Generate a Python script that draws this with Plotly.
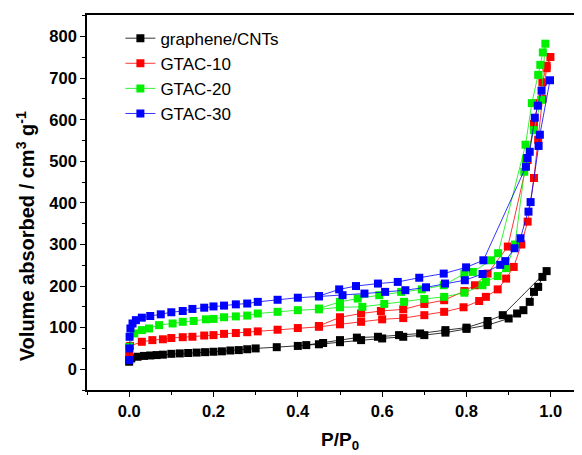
import plotly.graph_objects as go

# ---- data ----
BLACK_ADS_P = [0.0, 0.005, 0.02, 0.035, 0.05, 0.065, 0.08, 0.1, 0.12, 0.14, 0.16, 0.18, 0.2, 0.22, 0.24, 0.26, 0.28, 0.3,
               0.35, 0.4, 0.45, 0.5, 0.55, 0.6, 0.65, 0.7, 0.75, 0.8, 0.85, 0.9, 0.92, 0.935, 0.95, 0.96, 0.97, 0.98, 0.99]
BLACK_ADS_V = [18, 26, 30, 32, 33, 34, 35, 37, 38, 39, 40, 41, 42, 43, 45, 46, 48, 50,
               53, 56, 60, 65, 70, 74, 78, 82, 88, 97, 106, 122, 134, 142, 162, 186, 198, 222, 236]
BLACK_DES_P = [0.886, 0.85, 0.8, 0.75, 0.69, 0.64, 0.59, 0.54, 0.5, 0.46, 0.42]
BLACK_DES_V = [130, 116, 100, 94, 86, 82, 78, 76, 70, 63, 58]

RED_ADS_P = [0.0, 0.002, 0.03, 0.055, 0.08, 0.1, 0.127, 0.15, 0.178, 0.2, 0.225, 0.253, 0.28, 0.305, 0.352,
             0.4, 0.45, 0.5, 0.55, 0.6, 0.65, 0.7, 0.747, 0.793, 0.83, 0.846, 0.874, 0.894, 0.912, 0.93, 0.945,
             0.96, 0.97, 0.98, 0.99, 0.999]
RED_ADS_V = [32, 56, 66, 70, 72, 75, 77, 78, 81, 82, 85, 87, 89, 91, 95,
             99, 102, 108, 114, 120, 123, 130, 138, 149, 164, 174, 192, 218, 246, 300, 355,
             460, 552, 650, 724, 751]
RED_DES_P = [0.99, 0.98, 0.97, 0.96, 0.945, 0.898, 0.85, 0.82, 0.795, 0.747, 0.7, 0.65, 0.597, 0.55, 0.5, 0.45]
RED_DES_V = [730, 690, 640, 590, 503, 295, 230, 202, 188, 166, 157, 144, 140, 134, 125, 104]

GREEN_ADS_P = [0.0, 0.012, 0.03, 0.047, 0.071, 0.103, 0.127, 0.153, 0.182, 0.2, 0.225, 0.253, 0.28, 0.305, 0.352,
               0.4, 0.45, 0.5, 0.553, 0.605, 0.652, 0.7, 0.747, 0.795, 0.838, 0.846, 0.874, 0.894, 0.915, 0.937,
               0.941, 0.96, 0.977, 0.987]
GREEN_ADS_V = [54, 86, 94, 98, 106, 110, 114, 116, 120, 121, 125, 127, 129, 134, 138,
               142, 144, 149, 150, 157, 162, 169, 174, 184, 202, 210, 224, 243, 300, 475,
               505, 575, 648, 783]
GREEN_DES_P = [0.981, 0.975, 0.97, 0.955, 0.94, 0.875, 0.858, 0.815, 0.795, 0.746, 0.694, 0.645, 0.593, 0.542, 0.5, 0.45]
GREEN_DES_V = [762, 732, 708, 640, 540, 279, 262, 234, 230, 202, 192, 186, 178, 170, 162, 146]

BLUE_ADS_P = [0.0, 0.0005, 0.001, 0.003, 0.008, 0.016, 0.03, 0.05, 0.075, 0.1, 0.127, 0.15, 0.178, 0.2, 0.225,
              0.253, 0.28, 0.305, 0.352, 0.4, 0.45, 0.506, 0.558, 0.607, 0.655, 0.704, 0.749, 0.796, 0.838,
              0.88, 0.892, 0.914, 0.928, 0.947, 0.952, 0.971, 0.974, 0.998]
BLUE_ADS_V = [22, 50, 78, 98, 110, 118, 124, 128, 132, 137, 140, 145, 148, 151, 153,
              156, 158, 162, 167, 172, 175, 178, 182, 186, 190, 197, 206, 214, 229,
              251, 260, 291, 315, 379, 402, 537, 564, 695]
BLUE_DES_P = [0.978, 0.969, 0.962, 0.95, 0.944, 0.941, 0.84, 0.799, 0.746, 0.688, 0.637, 0.59, 0.538, 0.498, 0.45]
BLUE_DES_V = [670, 634, 605, 523, 508, 487, 262, 245, 230, 220, 210, 206, 200, 192, 176]

SERIES = [
    ("graphene/CNTs", "#000000", BLACK_ADS_P, BLACK_ADS_V, BLACK_DES_P, BLACK_DES_V),
    ("GTAC-10", "#ff0000", RED_ADS_P, RED_ADS_V, RED_DES_P, RED_DES_V),
    ("GTAC-20", "#00f000", GREEN_ADS_P, GREEN_ADS_V, GREEN_DES_P, GREEN_DES_V),
    ("GTAC-30", "#0000ff", BLUE_ADS_P, BLUE_ADS_V, BLUE_DES_P, BLUE_DES_V),
]

fig = go.Figure()
for name, color, ap, av, dp, dv in SERIES:
    fig.add_trace(go.Scatter(
        x=ap + dp, y=av + dv, name=name, mode="lines+markers",
        line=dict(color=color, width=0.8),
        marker=dict(symbol="square", size=8, color=color, line=dict(width=0)),
    ))

FONT = "Liberation Sans, Arial, sans-serif"
axis_common = dict(
    showline=True, linecolor="black", linewidth=1.6,
    ticks="outside", ticklen=5, tickwidth=1.4, tickcolor="black",
    showgrid=False, zeroline=False,
    tickfont=dict(family=FONT, size=16.5, color="black", weight="bold"),
)

# the page body adds an 8 px offset; margins compensate so the plot area sits where the reference has it,
# and the right end of the frame runs past the window edge as in the (cropped) reference
fig.update_layout(
    width=585, height=455,
    margin=dict(l=79, r=0, t=7, b=73),
    paper_bgcolor="white", plot_bgcolor="white",
    showlegend=True,
    legend=dict(x=0.066, y=0.985, xanchor="left", yanchor="top",
                bgcolor="rgba(0,0,0,0)", font=dict(family=FONT, size=17, color="black"),
                tracegroupgap=0, itemwidth=30),
    xaxis=dict(range=[-0.1, 1.1], tickvals=[0.0, 0.2, 0.4, 0.6, 0.8, 1.0],
               ticktext=["0.0", "0.2", "0.4", "0.6", "0.8", "1.0"], mirror=True,
               minor=dict(ticks="outside", ticklen=3, tickwidth=1.2, tickcolor="black", dtick=0.1, tick0=0),
               **axis_common),
    yaxis=dict(range=[-50, 852], tickvals=[0, 100, 200, 300, 400, 500, 600, 700, 800],
               minor=dict(ticks="outside", ticklen=3, tickwidth=1.2, tickcolor="black", dtick=50, tick0=-50),
               **axis_common),
    annotations=[
        dict(text="<b>P/P<sub>0</sub></b>", xref="paper", yref="paper", x=0.5, y=0,
             xanchor="center", yanchor="middle", yshift=-51, showarrow=False,
             font=dict(family=FONT, size=19, color="black")),
        dict(text="<b>Volume absorbed / cm<sup>3</sup> g<sup>-1</sup></b>", xref="paper", yref="paper",
             x=0, y=0.41, xanchor="center", yanchor="middle", xshift=-62, textangle=-90, showarrow=False,
             font=dict(family=FONT, size=20, color="black")),
    ],
)

fig.write_html("out.html")
